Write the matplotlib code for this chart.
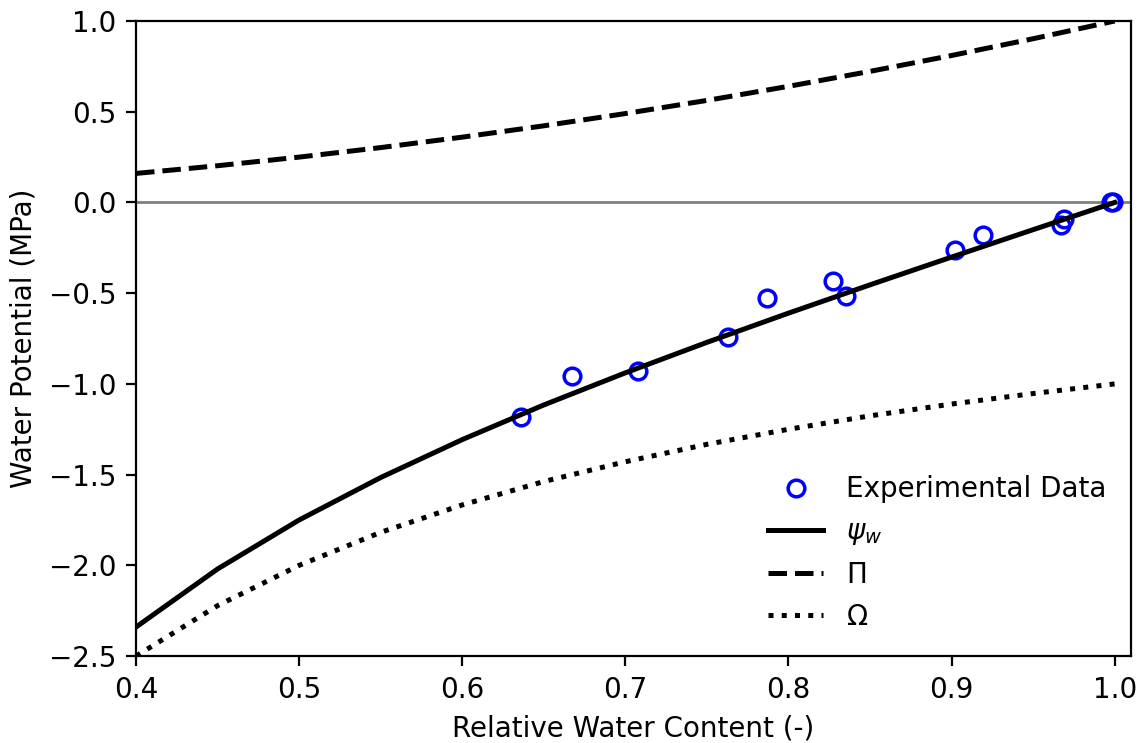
import matplotlib
matplotlib.use("Agg")
import matplotlib.pyplot as plt

# Model curves (relative water content grid)
rwc = [0.40, 0.45, 0.50, 0.55, 0.60, 0.65, 0.70, 0.75, 0.80, 0.85, 0.90, 0.95, 1.00]
pi_vals = [0.160, 0.2025, 0.250, 0.3025, 0.360, 0.4225, 0.490, 0.5625, 0.640, 0.7225, 0.810, 0.9025, 1.000]
omega_vals = [-2.500, -2.222, -2.000, -1.818, -1.667, -1.538, -1.429, -1.333, -1.250, -1.176, -1.111, -1.053, -1.000]
psi_vals = [-2.340, -2.020, -1.750, -1.516, -1.307, -1.116, -0.939, -0.771, -0.610, -0.454, -0.301, -0.150, 0.000]

# Experimental data
exp_rwc = [0.636, 0.667, 0.708, 0.763, 0.787, 0.827, 0.835, 0.902, 0.919, 0.967, 0.969, 0.998, 0.999]
exp_psi = [-1.18, -0.955, -0.93, -0.74, -0.525, -0.435, -0.515, -0.26, -0.178, -0.125, -0.09, 0.0, 0.0]

fig = plt.figure(figsize=(11.43 / 2, 7.43 / 2), dpi=200)
ax = fig.add_axes([0.119, 0.117, 0.8705, 0.8547])

ax.axhline(0, color="gray", lw=1)
ax.plot(exp_rwc, exp_psi, "o", mfc="none", mec="blue", ms=6, mew=1.25, label="Experimental Data")
ax.plot(rwc, psi_vals, "k-", lw=1.8, label=r"$\psi_w$")
ax.plot(rwc, pi_vals, "k--", lw=1.8, label=r"$\Pi$")
ax.plot(rwc, omega_vals, "k:", lw=1.8, label=r"$\Omega$")

ax.set_xlim(0.4, 1.01)
ax.set_ylim(-2.5, 1.0)
ax.set_xlabel("Relative Water Content (-)")
ax.set_ylabel("Water Potential (MPa)")
ax.legend(loc="lower right", frameon=False)

fig.savefig("out.png", dpi=200)
